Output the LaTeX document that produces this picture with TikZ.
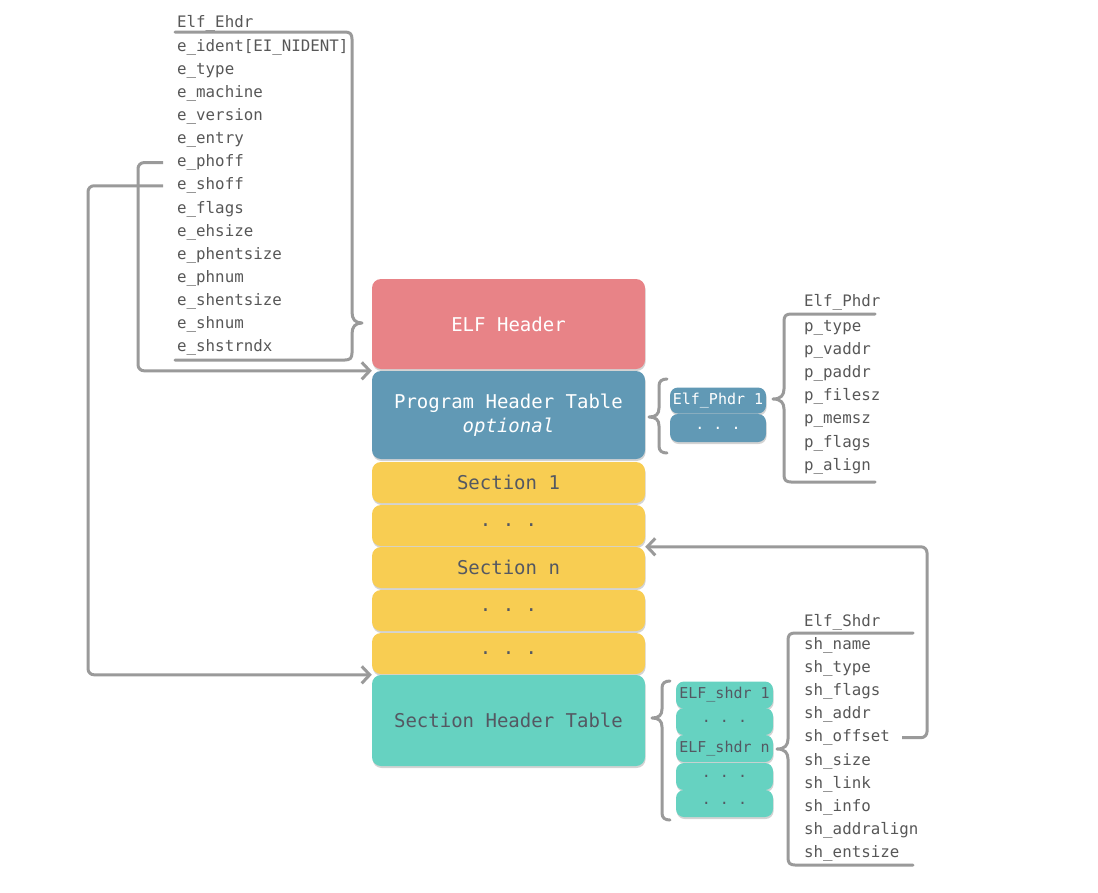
\documentclass[tikz,border=0pt]{standalone}
\usepackage{fontspec}
\setmonofont{DejaVu Sans Mono}
\usetikzlibrary{arrows.meta,shadows}
\definecolor{hdrc}{HTML}{E88387}
\definecolor{phtc}{HTML}{6199B5}
\definecolor{secc}{HTML}{F8CD52}
\definecolor{shtc}{HTML}{66D2C1}
\definecolor{lnc}{HTML}{9A9A9A}
\definecolor{txtc}{HTML}{575757}
\definecolor{dtxt}{HTML}{545862}
\begin{document}
\begin{tikzpicture}[x=1pt,y=-1pt,
 shd/.style={drop shadow={opacity=0.35,shadow xshift=0.6pt,shadow yshift=-2pt}},
 blk/.style={rectangle, rounded corners=9pt, minimum width=273pt, inner sep=0pt,
   font=\ttfamily\fontsize{19}{24}\selectfont, text=dtxt, align=center, shd},
 sm/.style={rectangle, rounded corners=8pt, minimum width=96pt, inner sep=0pt,
   font=\ttfamily\fontsize{15}{16}\selectfont, shd},
 fld/.style={anchor=base west, inner sep=0pt, font=\ttfamily\fontsize{15.8}{18}\selectfont, text=txtc},
 brc/.style={draw=lnc, line width=3pt, line join=round, line cap=round},
 arr/.style={draw=lnc, line width=3pt, rounded corners=6pt, -{Straight Barb[length=8pt,width=17pt]}}
]
\useasboundingbox (0,0) rectangle (1098,892);

% main blocks
\node[blk, fill=hdrc, text=white, minimum height=90pt] (hdr) at (508.5,324) {ELF Header};
\node[blk, fill=phtc, text=white, minimum height=88pt] (pht) at (508.5,415) {Program Header Table\\\textit{optional}};
\node[blk, fill=secc, minimum height=41pt] (sec1) at (508.5,482.5) {Section 1};
\node[blk, fill=secc, minimum height=41pt] (dots1) at (508.5,525.5) {. . .};
\node[blk, fill=secc, minimum height=41pt] (secn) at (508.5,567.5) {Section n};
\node[blk, fill=secc, minimum height=41pt] (dots2) at (508.5,610.5) {. . .};
\node[blk, fill=secc, minimum height=41pt] (dots3) at (508.5,653.5) {. . .};
\node[blk, fill=shtc, minimum height=91pt] (sht) at (508.5,720.5) {Section Header Table};

% Elf_Ehdr fields
\node[fld] (ehdr) at (177,27) {Elf\_Ehdr};
\foreach \t [count=\i] in {{e\_ident[EI\_NIDENT]},e\_type,e\_machine,e\_version,e\_entry,e\_phoff,e\_shoff,e\_flags,e\_ehsize,e\_phentsize,e\_phnum,e\_shentsize,e\_shnum,e\_shstrndx}
  \node[fld] (eh\i) at (177,{51+(\i-1)*23.15}) {\t};
\draw[brc] (175,32) -- (345,32) .. controls (350,32) and (352,34) .. (352,39)
  -- (352,312) .. controls (352,319) and (355,323) .. (362,323)
  .. controls (355,323) and (352,327) .. (352,334)
  -- (352,353) .. controls (352,358) and (350,360) .. (345,360) -- (175,360);

% program header small boxes
\node[sm, fill=phtc, text=white, minimum height=26pt] (ph1) at (718,400.5) {Elf\_Phdr 1};
\node[sm, fill=phtc, text=white, minimum height=28pt] (phd) at (718,428) {. . .};
\draw[brc] (667,379) .. controls (662,379) and (659,381) .. (659,386)
  -- (659,408) .. controls (659,414) and (656,417) .. (649,417)
  .. controls (656,417) and (659,420) .. (659,426)
  -- (659,446) .. controls (659,451) and (662,453) .. (667,453);

% Elf_Phdr fields
\node[fld] (phdr) at (804,306) {Elf\_Phdr};
\foreach \t [count=\i] in {p\_type,p\_vaddr,p\_paddr,p\_filesz,p\_memsz,p\_flags,p\_align}
  \node[fld] (ph\i f) at (804,{331+(\i-1)*23.2}) {\t};
\draw[brc] (875,314) -- (791,314) .. controls (786,314) and (784,316) .. (784,321)
  -- (784,389) .. controls (784,395) and (781,399) .. (773,399)
  .. controls (781,399) and (784,403) .. (784,409)
  -- (784,475) .. controls (784,480) and (786,482) .. (791,482) -- (875,482);

% section header small boxes
\node[sm, fill=shtc, text=dtxt, minimum width=97pt, minimum height=27pt] (sh1) at (724.5,695) {ELF\_shdr 1};
\node[sm, fill=shtc, text=dtxt, minimum width=97pt, minimum height=27pt] (shd1) at (724.5,721.5) {. . .};
\node[sm, fill=shtc, text=dtxt, minimum width=97pt, minimum height=27pt] (shn) at (724.5,748.5) {ELF\_shdr n};
\node[sm, fill=shtc, text=dtxt, minimum width=97pt, minimum height=27pt] (shd2) at (724.5,776.5) {. . .};
\node[sm, fill=shtc, text=dtxt, minimum width=97pt, minimum height=27pt] (shd3) at (724.5,803.5) {. . .};
\draw[brc] (670,681) .. controls (665,681) and (662,683) .. (662,688)
  -- (662,709) .. controls (662,715) and (659,718) .. (652,718)
  .. controls (659,718) and (662,721) .. (662,727)
  -- (662,813) .. controls (662,818) and (665,820) .. (670,820);

% Elf_Shdr fields
\node[fld] (shdr) at (804,626) {Elf\_Shdr};
\foreach \t [count=\i] in {sh\_name,sh\_type,sh\_flags,sh\_addr,sh\_offset,sh\_size,sh\_link,sh\_info,sh\_addralign,sh\_entsize}
  \node[fld] (sh\i f) at (804,{649+(\i-1)*23.2}) {\t};
\draw[brc] (913,633) -- (795,633) .. controls (790,633) and (788,635) .. (788,640)
  -- (788,739) .. controls (788,745) and (785,749) .. (777,749)
  .. controls (785,749) and (788,753) .. (788,759)
  -- (788,858) .. controls (788,863) and (790,865) .. (795,865) -- (913,865);

% connectors
\draw[arr] ([xshift=-14pt]eh6.west) -- ++(-25,0) |- (pht.north west);
\draw[arr] ([xshift=-14pt]eh7.west) -- ++(-75,0) |- (sht.north west);
\draw[arr] ([xshift=12pt]sh5f.east) -- ++(25,0) |- (secn.north east);
\end{tikzpicture}
\end{document}
